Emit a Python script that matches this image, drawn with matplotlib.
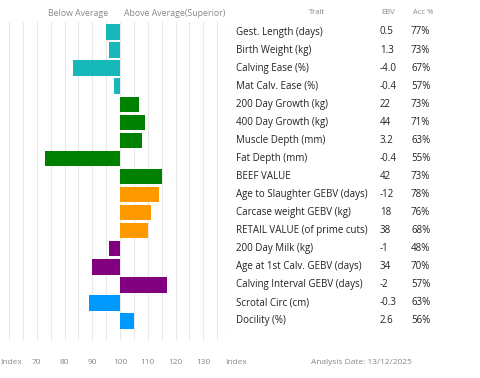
import matplotlib
matplotlib.use("Agg")
import matplotlib.pyplot as plt

traits = ["Gest. Length (days)", "Birth Weight (kg)", "Calving Ease (%)", "Mat Calv. Ease (%)",
          "200 Day Growth (kg)", "400 Day Growth (kg)", "Muscle Depth (mm)", "Fat Depth (mm)",
          "BEEF VALUE", "Age to Slaughter GEBV (days)", "Carcase weight GEBV (kg)",
          "RETAIL VALUE (of prime cuts)", "200 Day Milk (kg)", "Age at 1st Calv. GEBV (days)",
          "Calving Interval GEBV (days)", "Scrotal Circ (cm)", "Docility (%)"]
ebv = ["0.5", "1.3", "-4.0", "-0.4", "22", "44", "3.2", "-0.4", "42", "-12", "18", "38",
       "-1", "34", "-2", "-0.3", "2.6"]
acc = ["77%", "73%", "67%", "57%", "73%", "71%", "63%", "55%", "73%", "78%", "76%", "68%",
       "48%", "70%", "57%", "63%", "56%"]
index_vals = [95, 96, 83, 98, 107, 109, 108, 73, 115, 114, 111, 110, 96, 90, 117, 89, 105]
groups = ["calving"] * 4 + ["growth"] * 5 + ["carcase"] * 3 + ["maternal"] * 3 + ["other"] * 2
group_colors = {"calving": "#17B8B8", "growth": "#008000", "carcase": "#FF9900",
                "maternal": "#800080", "other": "#0099FF"}
x_ticks = [70, 80, 90, 100, 110, 120, 130]
analysis_date = "13/12/2025"
base = 100

W, H = 480, 378
fig = plt.figure(figsize=(W / 100, H / 100), dpi=100)
font = "Open Sans"

ax_l, ax_r, ax_t, ax_b = 9, 231, 22, 340
ax = fig.add_axes([ax_l / W, 1 - ax_b / H, (ax_r - ax_l) / W, (ax_b - ax_t) / H])
ax.set_xlim(60, 140)
n = len(traits)
ax.set_ylim(n - 1 + 1.05, -0.55)
for v in range(60, 141, 5):
    ax.axvline(v, color="#e8e8e8", lw=0.8, zorder=0)
for i, (v, g) in enumerate(zip(index_vals, groups)):
    ax.barh(i, v - base, left=base, height=0.85, color=group_colors[g], zorder=2)
ax.set_xticks([])
ax.set_yticks([])
for s in ax.spines.values():
    s.set_visible(False)
ax.axvline(140, color="#dddddd", lw=0.8)

def fx(px):
    return px / W

def fy(py):
    return 1 - py / H

gray = "#888888"
fig.text(fx(78), fy(14), "Below Average", ha="center", va="center", fontsize=6.3, color=gray, family=font)
fig.text(fx(175), fy(14), "Above Average(Superior)", ha="center", va="center", fontsize=6.3, color=gray, family=font)
fig.text(fx(317), fy(13), "Trait", ha="center", va="center", fontsize=5.5, color=gray, family=font)
fig.text(fx(388), fy(13), "EBV", ha="center", va="center", fontsize=5.5, color=gray, family=font)
fig.text(fx(423), fy(13), "Acc %", ha="center", va="center", fontsize=5.5, color=gray, family=font)

row0, step = 32, 18.06
for i in range(n):
    y = row0 + i * step
    fig.text(fx(236), fy(y), traits[i], ha="left", va="center", fontsize=7, color="#222222", family=font)
    fig.text(fx(380), fy(y), ebv[i], ha="left", va="center", fontsize=7, color="#222222", family=font)
    fig.text(fx(411), fy(y), acc[i], ha="left", va="center", fontsize=7, color="#222222", family=font)

ypos = fy(363)
fig.text(fx(0), ypos, "Index", ha="left", va="center", fontsize=6, color=gray, family=font)
for t in x_ticks:
    px = ax_l + (t - 60) / 80 * (ax_r - ax_l)
    fig.text(fx(px), ypos, str(t), ha="center", va="center", fontsize=6, color=gray, family=font)
fig.text(fx(225), ypos, "Index", ha="left", va="center", fontsize=6, color=gray, family=font)
fig.text(fx(361), ypos, "Analysis Date: " + analysis_date, ha="center", va="center", fontsize=6, color=gray, family=font)

fig.savefig("out.png", dpi=100)
